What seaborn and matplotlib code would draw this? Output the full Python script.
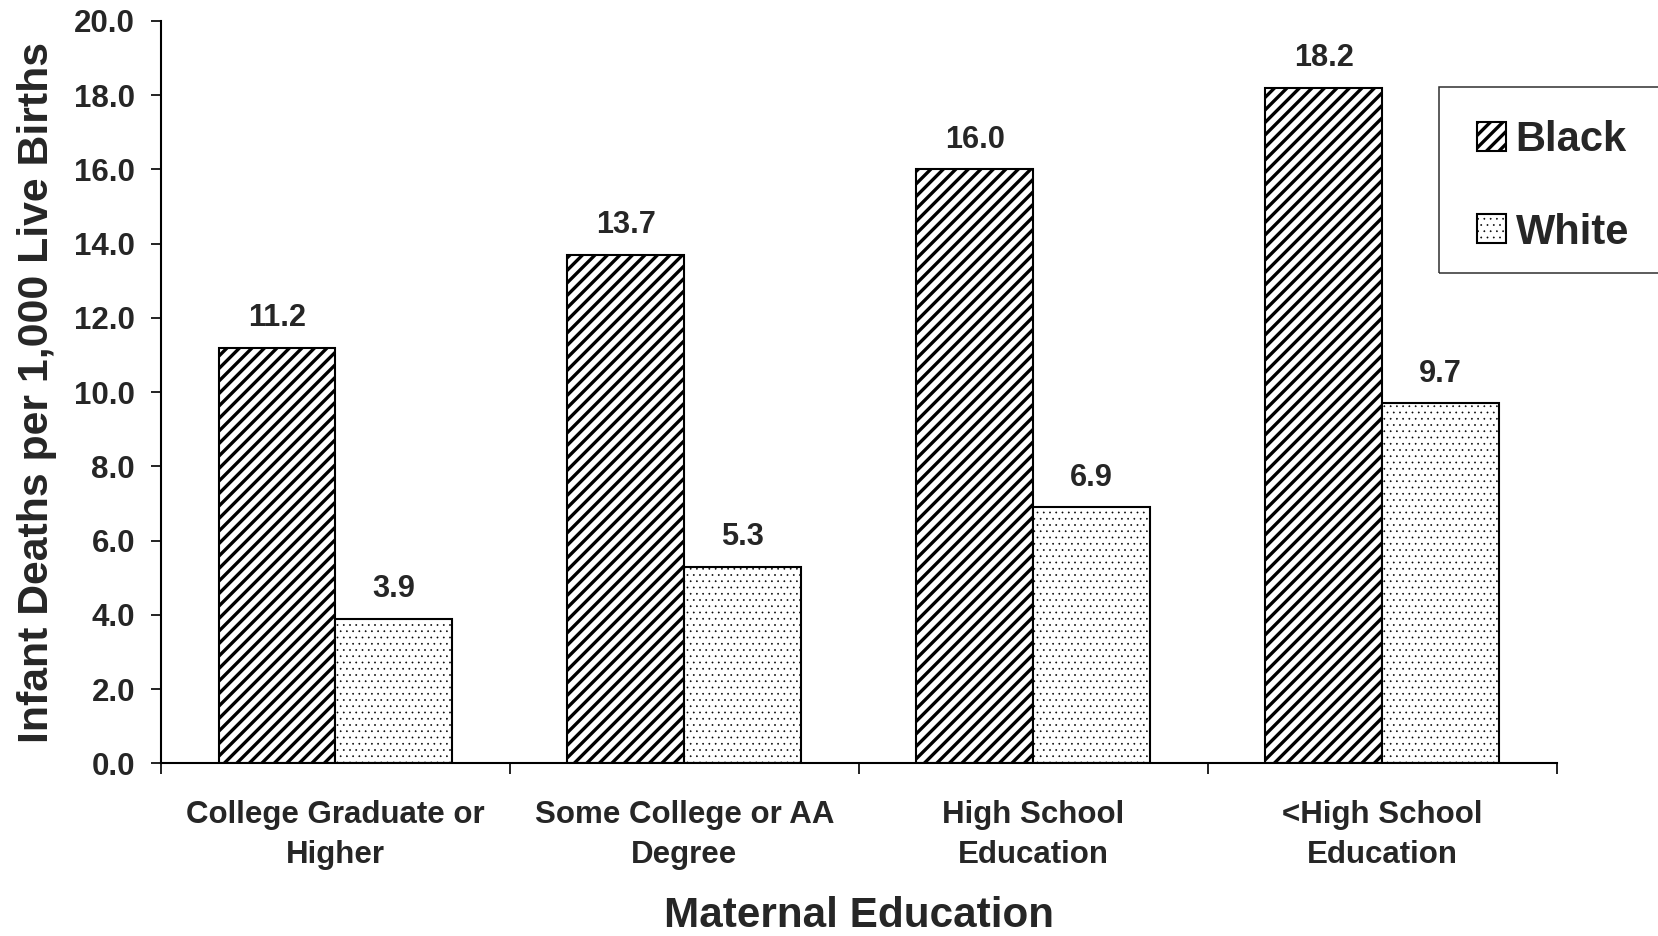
import matplotlib
matplotlib.use("Agg")
import matplotlib.pyplot as plt
import matplotlib.patches as mpatches
import matplotlib.ticker as mticker
import pandas as pd
import seaborn as sns

# Data
education = ["College Graduate or\nHigher", "Some College or AA\nDegree",
             "High School\nEducation", "<High School\nEducation"]
races = ["Black", "White"]
black_rates = [11.2, 13.7, 16.0, 18.2]
white_rates = [3.9, 5.3, 6.9, 9.7]
y_ticks = [0, 2, 4, 6, 8, 10, 12, 14, 16, 18, 20]

df = pd.DataFrame({
    "education": education * 2,
    "race": ["Black"] * len(black_rates) + ["White"] * len(white_rates),
    "rate": black_rates + white_rates,
})

sns.set_style("ticks")
plt.rcParams.update({
    "font.family": ["Liberation Sans", "DejaVu Sans"],
    "font.weight": "bold",
    "axes.labelweight": "bold",
    "hatch.linewidth": 3.2,
    "axes.linewidth": 2.0,
    "axes.edgecolor": "black",
})

hatches = {"Black": "//", "White": ".."}
hatch_lw = {"Black": 3.2, "White": 0.5}


def set_hatch_lw(patch, lw):
    # per-patch hatch width if matplotlib supports it, else at draw time
    if hasattr(patch, "set_hatch_linewidth"):
        patch.set_hatch_linewidth(lw)
    else:
        draw = patch.draw

        def wrapped(renderer, _draw=draw, _lw=lw):
            with plt.rc_context({"hatch.linewidth": _lw}):
                _draw(renderer)
        patch.draw = wrapped


DPI = 75
fig = plt.figure(figsize=(1658 / DPI, 936 / DPI), dpi=DPI)
ax = fig.add_axes([0.0971, 0.1843, 0.8418, 0.7933])

sns.barplot(data=df, x="education", y="rate", hue="race", order=education,
            hue_order=races, palette=["white", "white"], saturation=1,
            edgecolor="black", linewidth=2, width=0.67, errorbar=None,
            legend=False, ax=ax)

for cont, race in zip(ax.containers, races):
    for bar in cont:
        bar.set_hatch(hatches[race])
        set_hatch_lw(bar, hatch_lw[race])
    ax.bar_label(cont, fmt="%.1f", padding=14, fontsize=29.5, fontweight="bold")

sns.despine(ax=ax)
ax.set_xlim(-0.5, 3.5)
ax.set_ylim(0, 20)
ax.set_yticks(y_ticks)
ax.yaxis.set_major_formatter(mticker.FormatStrFormatter("%.1f"))
ax.tick_params(axis="y", direction="out", length=9.6, width=1.9, pad=15.4,
               labelsize=30)
ax.set_xticks([-0.5, 0.5, 1.5, 2.5, 3.5], minor=True)
ax.tick_params(axis="x", which="major", length=0, pad=35, labelsize=30)
ax.tick_params(axis="x", which="minor", length=10.5, width=1.9, direction="out")
for lbl in ax.get_xticklabels():
    lbl.set_linespacing(1.45)

ax.set_xlabel("Maternal Education", fontsize=40.5, fontweight="bold")
ax.xaxis.set_label_coords(0.5, -0.178)
ax.set_ylabel("Infant Deaths per 1,000 Live Births", fontsize=41, fontweight="bold")
ax.yaxis.set_label_coords(-0.0745, 0.5)

# legend (frame drawn separately so it runs off the right edge like the original)
handles = [ax.containers[0][0], ax.containers[1][0]]
leg = fig.legend(handles, races, loc="upper left",
                 bbox_to_anchor=(1477 / 1658, 1 - 120 / 936),
                 frameon=False, fontsize=40, handlelength=0.69,
                 handleheight=0.69, handletextpad=0.24, labelspacing=1.26,
                 borderpad=0, borderaxespad=0)
for h, race in zip(leg.legend_handles, races):
    h.set_hatch(hatches[race])
    set_hatch_lw(h, hatch_lw[race])
    h.set_linewidth(2)
fig.add_artist(mpatches.Rectangle((1439 / 1658, 1 - 273 / 936), 0.2, 186 / 936,
                                  transform=fig.transFigure, fill=False,
                                  edgecolor="#333333", linewidth=1.5))

fig.savefig("out.png", dpi=DPI)
